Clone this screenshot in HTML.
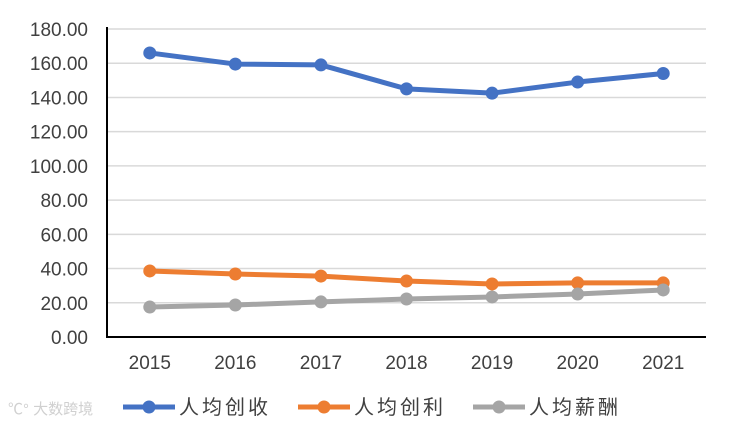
<!DOCTYPE html>
<html><head><meta charset="utf-8"><style>
body{margin:0;background:#fff;width:732px;height:425px;overflow:hidden}
svg text{font-family:"Liberation Sans","Noto Sans CJK SC",sans-serif;fill:#404040}
</style></head><body>
<svg id="c" width="732" height="425"></svg>
<script>
const categories=["2015","2016","2017","2018","2019","2020","2021"];
const revenue=[166,159.5,159,145,142.5,149,154];
const profit=[38.6,36.8,35.6,32.7,31,31.6,31.6];
const salary=[17.5,18.7,20.5,22.2,23.4,25.1,27.5];
const yTicks=[0,20,40,60,80,100,120,140,160,180];
const seriesNames=["人均创收","人均创利","人均薪酬"];
const colors=["#4472C4","#ED7D31","#A5A5A5"];
const NS="http://www.w3.org/2000/svg",svg=document.getElementById('c');
const L=107,R=706,T=29,B=337;
const y=v=>B-(v/180)*(B-T);
const step=(R-L)/categories.length;
const x=i=>L+step*(i+0.5);
function mk(t,a,p){const e=document.createElementNS(NS,t);for(const k in a)e.setAttribute(k,a[k]);(p||svg).appendChild(e);return e;}
yTicks.forEach((v,i)=>{
 if(v>0){const g=mk('line',{x1:L,x2:R,y1:y(v),y2:y(v),stroke:'#d9d9d9','stroke-width':1.5});
 
 }
 const t=mk('text',{x:88,y:y(v)+7,'text-anchor':'end','font-size':19});t.textContent=v.toFixed(2);
 
 
});
const ax=mk('path',{d:`M${L} ${T-2}V${B}H${R}`,fill:'none',stroke:'#000','stroke-width':2});


categories.forEach((c,i)=>{const t=mk('text',{x:x(i),y:369,'text-anchor':'middle','font-size':19});t.textContent=c;
 
 });
[revenue,profit,salary].forEach((s,k)=>{
 const p=mk('polyline',{points:s.map((v,i)=>x(i)+','+y(v)).join(' '),fill:'none',stroke:colors[k],'stroke-width':5,'stroke-linejoin':'round'});
 
 
 s.forEach((v,i)=>{const c=mk('circle',{cx:x(i),cy:y(v),r:6.5,fill:colors[k]});
  
  });
});
const lx=[123,298,473];
seriesNames.forEach((n,k)=>{
 const g=mk('g',{});
 
 
 mk('line',{x1:lx[k],x2:lx[k]+52,y1:407,y2:407,stroke:colors[k],'stroke-width':5},g);
 mk('circle',{cx:lx[k]+26,cy:407,r:6.5,fill:colors[k]},g);
 const t=mk('text',{x:lx[k]+56,y:414,'font-size':20,'letter-spacing':3},g);t.textContent=n;
});
const w=mk('text',{x:8,y:414,'font-size':15,fill:'#ccc',style:'fill:#d0d0d0'});w.textContent="℃° 大数跨境";


</script>
</body></html>
